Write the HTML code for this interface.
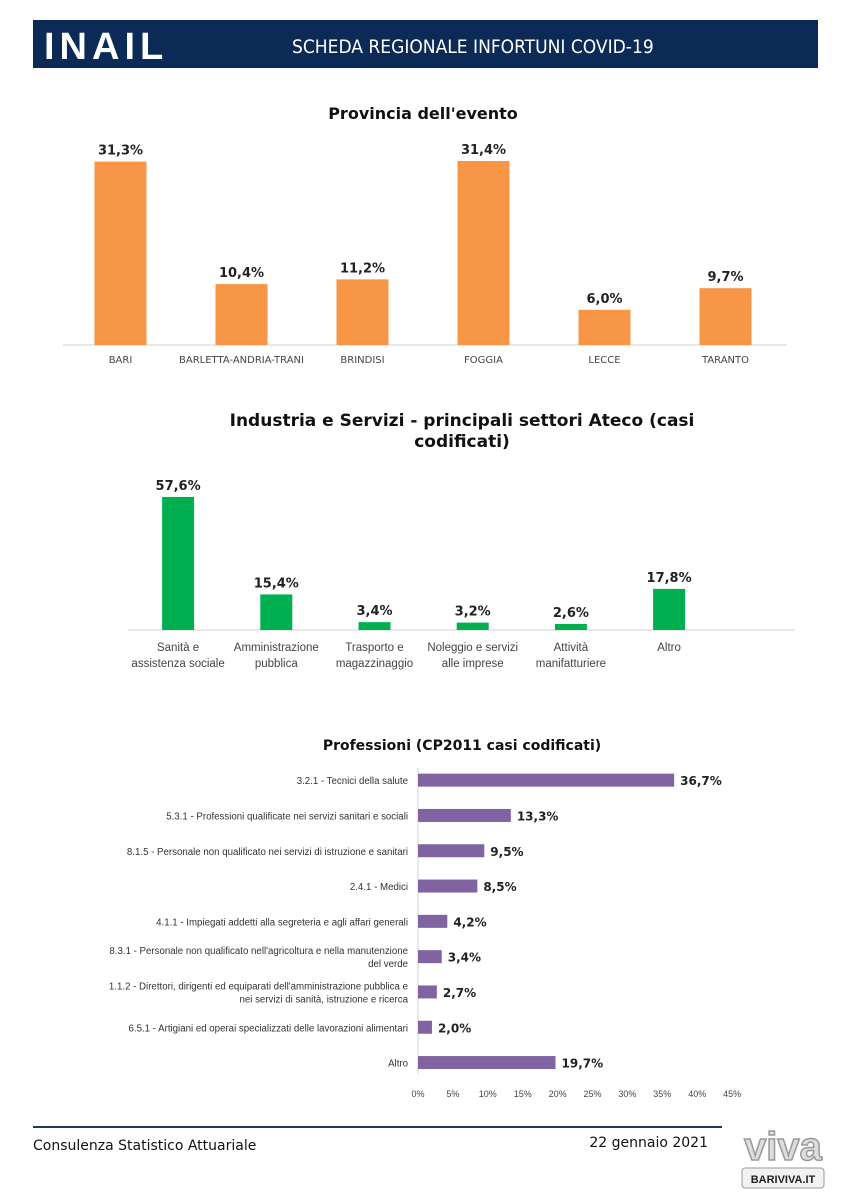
<!DOCTYPE html>
<html><head><meta charset="utf-8"><style>
body{margin:0;background:#fff;font-family:"DejaVu Sans","Liberation Sans",sans-serif;}
#root{position:relative;width:849px;height:1200px;overflow:hidden;background:#fff}
svg{position:absolute;left:0;top:0}
</style></head><body>
<div id="root">
<svg id="s" width="849" height="1200">
<rect x="33" y="20" width="785" height="48" fill="#0b2a56"/>
<text x="44" y="59" font-family="Liberation Sans" font-weight="bold" font-size="38" fill="#fff" letter-spacing="5">INAIL</text>
<text x="292" y="53" font-family="DejaVu Sans Condensed, DejaVu Sans" font-size="19" fill="#fff">SCHEDA REGIONALE INFORTUNI COVID-19</text>
<text x="423" y="119" text-anchor="middle" font-weight="bold" font-size="16" fill="#111">Provincia dell'evento</text>
<text x="462" y="426" text-anchor="middle" font-weight="bold" font-size="17" fill="#111">Industria  e Servizi  - principali  settori Ateco (casi</text>
<text x="462" y="447" text-anchor="middle" font-weight="bold" font-size="17" fill="#111">codificati)</text>
<text x="462" y="750" text-anchor="middle" font-weight="bold" font-size="14" fill="#111">Professioni  (CP2011 casi codificati)</text>
<line x1="33" y1="1127" x2="722" y2="1127" stroke="#1f3864" stroke-width="2"/>
<text x="33" y="1150" font-size="14" fill="#111">Consulenza Statistico Attuariale</text>
<text x="708" y="1147" text-anchor="end" font-size="14" fill="#111">22 gennaio 2021</text>
<text x="783" y="1160" text-anchor="middle" font-family="Liberation Sans" font-weight="bold" font-size="40" fill="#ddd" stroke="#999" stroke-width="1.5">viva</text>
<rect x="742" y="1168" width="82" height="20" rx="3" fill="#f2f2f2" stroke="#999"/>
<text x="783" y="1183" text-anchor="middle" font-family="Liberation Sans" font-weight="bold" font-size="11" fill="#222">BARIVIVA.IT</text>
<g id="c1"></g><g id="c2"></g><g id="c3"></g>
</svg>
</div>
<script>
const provCats=["BARI","BARLETTA-ANDRIA-TRANI","BRINDISI","FOGGIA","LECCE","TARANTO"];
const provVals=[31.3,10.4,11.2,31.4,6.0,9.7];
const atecoCats=[["Sanità e","assistenza sociale"],["Amministrazione","pubblica"],["Trasporto e","magazzinaggio"],["Noleggio e servizi","alle imprese"],["Attività","manifatturiere"],["Altro"]];
const atecoVals=[57.6,15.4,3.4,3.2,2.6,17.8];
const profCats=[["3.2.1 - Tecnici della salute"],["5.3.1 - Professioni qualificate nei servizi sanitari e sociali"],["8.1.5 - Personale non qualificato nei servizi di istruzione e sanitari"],["2.4.1 - Medici"],["4.1.1 - Impiegati addetti alla segreteria e agli affari generali"],["8.3.1 - Personale non qualificato nell'agricoltura e nella manutenzione","del verde"],["1.1.2 - Direttori, dirigenti ed equiparati dell'amministrazione pubblica e","nei servizi di sanità, istruzione e ricerca"],["6.5.1 - Artigiani ed operai specializzati delle lavorazioni alimentari"],["Altro"]];
const profVals=[36.7,13.3,9.5,8.5,4.2,3.4,2.7,2.0,19.7];
const profTicks=[0,5,10,15,20,25,30,35,40,45];
const NS="http://www.w3.org/2000/svg";
function mk(p,t,a,txt){const e=document.createElementNS(NS,t);for(const k in a)e.setAttribute(k,a[k]);if(txt!==undefined)e.textContent=txt;p.appendChild(e);return e;}
const fmt=v=>v.toFixed(1).replace('.',',')+'%';
(function(){const g=document.getElementById('c1');const base=345,k=5.86,x0=60,step=121,w=52;
const xc=i=>x0+step*(i+0.5);const y=v=>base-v*k;
let l=mk(g,'line',{x1:63,y1:base,x2:787,y2:base,stroke:'#d0d0d0'});
provVals.forEach((v,i)=>{let r=mk(g,'rect',{x:xc(i)-w/2,y:y(v),width:w,height:base-y(v),fill:'#f79646'});

let t=mk(g,'text',{x:xc(i),y:y(v)-7,'text-anchor':'middle','font-weight':'bold','font-size':13,fill:'#222'},fmt(v));

let c=mk(g,'text',{x:xc(i),y:363,'text-anchor':'middle','font-size':10,fill:'#444'},provCats[i]);
});})();
(function(){const g=document.getElementById('c2');const base=630,k=2.31,x0=129,step=98.2,w=32;
const xc=i=>x0+step*(i+0.5);const y=v=>base-v*k;
let l=mk(g,'line',{x1:128,y1:base,x2:795,y2:base,stroke:'#d0d0d0'});
atecoVals.forEach((v,i)=>{let r=mk(g,'rect',{x:xc(i)-w/2,y:y(v),width:w,height:base-y(v),fill:'#00b050'});

let t=mk(g,'text',{x:xc(i),y:y(v)-7,'text-anchor':'middle','font-weight':'bold','font-size':13,fill:'#222'},fmt(v));

atecoCats[i].forEach((s,j)=>{let c=mk(g,'text',{x:xc(i),y:651+j*16,'text-anchor':'middle','font-family':'Liberation Sans','font-size':11.5,fill:'#444'},s);
});});})();
(function(){const g=document.getElementById('c3');const x0=418,k=6.98,top=762.5,step=35.3,h=13;
const yc=i=>top+step*(i+0.5);const x=v=>x0+v*k;
let l=mk(g,'line',{x1:x0,y1:768,x2:x0,y2:1074,stroke:'#d0d0d0'});
profVals.forEach((v,i)=>{let r=mk(g,'rect',{x:x0,y:yc(i)-h/2,width:x(v)-x0,height:h,fill:'#8064a2'});

let t=mk(g,'text',{x:x(v)+6,y:yc(i)+5,'font-weight':'bold','font-size':12,fill:'#222'},fmt(v));

const ls=profCats[i];ls.forEach((s,j)=>{let c=mk(g,'text',{x:408,y:yc(i)+4+(j-(ls.length-1)/2)*13,'text-anchor':'end','font-family':'Liberation Sans','font-size':9.7,fill:'#333'},s);
});});
profTicks.forEach(v=>{let t=mk(g,'text',{x:x(v),y:1097,'text-anchor':'middle','font-family':'Liberation Sans','font-size':9,fill:'#444'},v+'%');
});})();
</script>
</body></html>
